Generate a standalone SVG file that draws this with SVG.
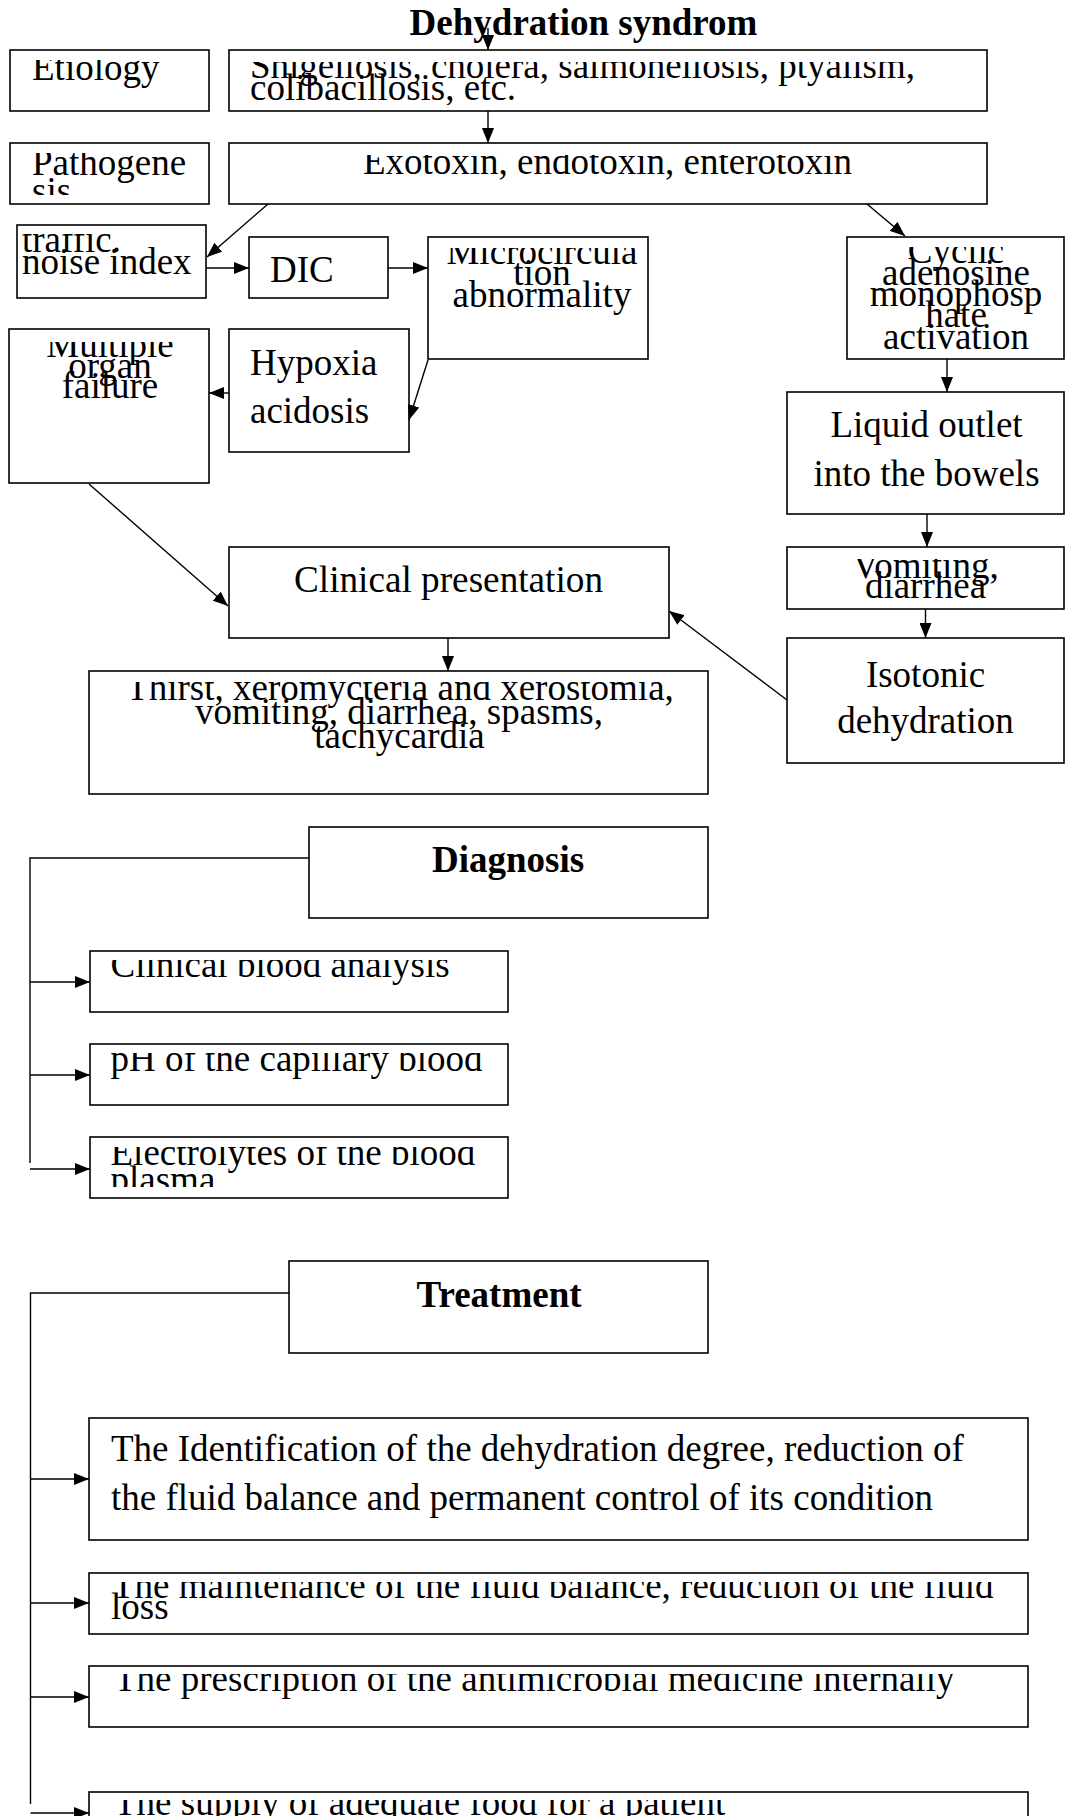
<svg xmlns="http://www.w3.org/2000/svg" width="1066" height="1816" viewBox="0 0 1066 1816">
<style>
.box{fill:#fff;stroke:#000;stroke-width:1.6}
.t{font-family:"Liberation Serif","Times New Roman",serif;font-size:37px;fill:#000}
.b{font-weight:bold}
.c{text-anchor:middle}
.ln{fill:none;stroke:#000;stroke-width:1.4}
</style>
<defs>
<marker id="ah" markerUnits="userSpaceOnUse" markerWidth="15" markerHeight="12" refX="15" refY="6" orient="auto">
<path d="M0,0 L15,6 L0,12 z" fill="#000"/>
</marker>
<clipPath id="cEti"><rect x="10" y="60" width="199" height="45"/></clipPath>
<clipPath id="cShi"><rect x="229" y="62" width="758" height="43"/></clipPath>
<clipPath id="cPat"><rect x="10" y="153" width="199" height="42"/></clipPath>
<clipPath id="cExo"><rect x="229" y="155" width="758" height="43"/></clipPath>
<clipPath id="cTra"><rect x="17" y="234" width="189" height="58"/></clipPath>
<clipPath id="cMic"><rect x="428" y="248" width="220" height="105"/></clipPath>
<clipPath id="cCyc"><rect x="847" y="247" width="217" height="102"/></clipPath>
<clipPath id="cMul"><rect x="9" y="342" width="200" height="135"/></clipPath>
<clipPath id="cVom"><rect x="787" y="559" width="277" height="39"/></clipPath>
<clipPath id="cThi"><rect x="89" y="682" width="619" height="106"/></clipPath>
<clipPath id="cD1"><rect x="90" y="960" width="418" height="46"/></clipPath>
<clipPath id="cD2"><rect x="90" y="1053" width="418" height="46"/></clipPath>
<clipPath id="cD3"><rect x="90" y="1147" width="418" height="40"/></clipPath>
<clipPath id="cT2"><rect x="89" y="1582" width="939" height="46"/></clipPath>
<clipPath id="cT3"><rect x="89" y="1674" width="939" height="47"/></clipPath>
<clipPath id="cT4"><rect x="89" y="1800" width="939" height="40"/></clipPath>
</defs>

<g id="title">
<text class="t b c" x="583.5" y="35">Dehydration syndrom</text>
</g>

<g id="etiology">
<rect class="box" x="10" y="50" width="199" height="61"/>
<text class="t" x="32" y="80" clip-path="url(#cEti)">Etiology</text>
</g>
<g id="shigellosis">
<rect class="box" x="229" y="50" width="758" height="61"/>
<g clip-path="url(#cShi)">
<text class="t" x="250" y="77.5">Shigellosis, cholera, salmonellosis, ptyalism,</text>
<text class="t" x="250" y="99.5">colibacillosis, etc.</text>
</g>
</g>
<g id="pathogenesis">
<rect class="box" x="10" y="143" width="199" height="61"/>
<g clip-path="url(#cPat)">
<text class="t" x="32" y="175">Pathogene</text>
<text class="t" x="32" y="203">sis</text>
</g>
</g>
<g id="exotoxin">
<rect class="box" x="229" y="143" width="758" height="61"/>
<text class="t c" x="607.5" y="174" clip-path="url(#cExo)">Exotoxin, endotoxin, enterotoxin</text>
</g>
<g id="traffic">
<rect class="box" x="17" y="225" width="189" height="73"/>
<g clip-path="url(#cTra)">
<text class="t" x="22" y="252">traffic.</text>
<text class="t" x="22" y="274">noise index</text>
</g>
</g>
<g id="dic">
<rect class="box" x="249" y="237" width="139" height="61"/>
<text class="t" x="270" y="282">DIC</text>
</g>
<g id="microcirculation">
<rect class="box" x="428" y="237" width="220" height="122"/>
<g clip-path="url(#cMic)">
<text class="t c" x="542" y="264">Microcircula</text>
<text class="t c" x="542" y="285">tion</text>
<text class="t c" x="542" y="307">abnormality</text>
</g>
</g>
<g id="cyclic">
<rect class="box" x="847" y="237" width="217" height="122"/>
<g clip-path="url(#cCyc)">
<text class="t c" x="956" y="263">Cyclic</text>
<text class="t c" x="956" y="284.5">adenosine</text>
<text class="t c" x="956" y="306">monophosp</text>
<text class="t c" x="956" y="327">hate</text>
<text class="t c" x="956" y="348.5">activation</text>
</g>
</g>
<g id="multiple">
<rect class="box" x="9" y="329" width="200" height="154"/>
<g clip-path="url(#cMul)">
<text class="t c" x="110" y="357">Multiple</text>
<text class="t c" x="110" y="377.5">organ</text>
<text class="t c" x="110" y="398">failure</text>
</g>
</g>
<g id="hypoxia">
<rect class="box" x="229" y="329" width="180" height="123"/>
<text class="t" x="250" y="375">Hypoxia</text>
<text class="t" x="250" y="423">acidosis</text>
</g>
<g id="liquid">
<rect class="box" x="787" y="392" width="277" height="122"/>
<text class="t c" x="926.5" y="437">Liquid outlet</text>
<text class="t c" x="926.5" y="486">into the bowels</text>
</g>
<g id="vomiting">
<rect class="box" x="787" y="547" width="277" height="62"/>
<g clip-path="url(#cVom)">
<text class="t c" x="925.5" y="578">Vomiting,</text>
<text class="t c" x="925.5" y="598">diarrhea</text>
</g>
</g>
<g id="isotonic">
<rect class="box" x="787" y="638" width="277" height="125"/>
<text class="t c" x="925.5" y="687">Isotonic</text>
<text class="t c" x="925.5" y="733">dehydration</text>
</g>
<g id="clinical">
<rect class="box" x="229" y="547" width="440" height="91"/>
<text class="t" x="294" y="592" textLength="309" lengthAdjust="spacingAndGlyphs">Clinical presentation</text>
</g>
<g id="symptoms">
<rect class="box" x="89" y="671" width="619" height="123"/>
<g clip-path="url(#cThi)">
<text class="t c" x="400" y="700">Thirst, xeromycteria and xerostomia,</text>
<text class="t c" x="399" y="724">vomiting, diarrhea, spasms,</text>
<text class="t c" x="399.5" y="748">tachycardia</text>
</g>
</g>

<g id="diagnosis">
<rect class="box" x="309" y="827" width="399" height="91"/>
<text class="t b c" x="508" y="872">Diagnosis</text>
</g>
<g id="diag-blood">
<rect class="box" x="90" y="951" width="418" height="61"/>
<text class="t" x="110.5" y="977" clip-path="url(#cD1)">Clinical blood analysis</text>
</g>
<g id="diag-ph">
<rect class="box" x="90" y="1044" width="418" height="61"/>
<text class="t" x="110.5" y="1071" clip-path="url(#cD2)">pH of the capillary blood</text>
</g>
<g id="diag-electrolytes">
<rect class="box" x="90" y="1137" width="418" height="61"/>
<g clip-path="url(#cD3)">
<text class="t" x="110.5" y="1165">Electrolytes of the blood</text>
<text class="t" x="110.5" y="1192">plasma</text>
</g>
</g>

<g id="treatment">
<rect class="box" x="289" y="1261" width="419" height="92"/>
<text class="t b c" x="499" y="1307">Treatment</text>
</g>
<g id="treat-1">
<rect class="box" x="89" y="1418" width="939" height="122"/>
<text class="t" x="111" y="1461">The Identification of the dehydration degree, reduction of</text>
<text class="t" x="111" y="1510">the fluid balance and permanent control of its condition</text>
</g>
<g id="treat-2">
<rect class="box" x="89" y="1573" width="939" height="61"/>
<g clip-path="url(#cT2)">
<text class="t" x="112" y="1598">The maintenance of the fluid balance, reduction of the fluid</text>
<text class="t" x="111" y="1619">loss</text>
</g>
</g>
<g id="treat-3">
<rect class="box" x="89" y="1666" width="939" height="61"/>
<text class="t" x="114" y="1691" clip-path="url(#cT3)">The prescription of the antimicrobial medicine internally</text>
</g>
<g id="treat-4">
<rect class="box" x="89" y="1792" width="939" height="60"/>
<text class="t" x="114" y="1815" clip-path="url(#cT4)">The supply of adequate food for a patient</text>
</g>

<g id="connectors">
<line class="ln" x1="488" y1="28" x2="488" y2="50" marker-end="url(#ah)"/>
<line class="ln" x1="488" y1="111" x2="488" y2="143" marker-end="url(#ah)"/>
<line class="ln" x1="268" y1="204" x2="207" y2="257" marker-end="url(#ah)"/>
<line class="ln" x1="867" y1="204" x2="905" y2="236" marker-end="url(#ah)"/>
<line class="ln" x1="206" y1="268" x2="249" y2="268" marker-end="url(#ah)"/>
<line class="ln" x1="388" y1="268" x2="428" y2="268" marker-end="url(#ah)"/>
<line class="ln" x1="428" y1="360" x2="409" y2="420" marker-end="url(#ah)"/>
<line class="ln" x1="229" y1="393" x2="209" y2="393" marker-end="url(#ah)"/>
<line class="ln" x1="947" y1="359" x2="947" y2="392" marker-end="url(#ah)"/>
<line class="ln" x1="927" y1="514" x2="927" y2="547" marker-end="url(#ah)"/>
<line class="ln" x1="925.5" y1="609" x2="925.5" y2="638" marker-end="url(#ah)"/>
<line class="ln" x1="89" y1="484" x2="228" y2="606" marker-end="url(#ah)"/>
<line class="ln" x1="787" y1="700" x2="669" y2="611" marker-end="url(#ah)"/>
<line class="ln" x1="448" y1="638" x2="448" y2="671" marker-end="url(#ah)"/>
<polyline class="ln" points="309,858 30,858 30,1163"/>
<line class="ln" x1="30" y1="982" x2="90" y2="982" marker-end="url(#ah)"/>
<line class="ln" x1="30" y1="1075" x2="90" y2="1075" marker-end="url(#ah)"/>
<line class="ln" x1="30" y1="1169" x2="90" y2="1169" marker-end="url(#ah)"/>
<polyline class="ln" points="289,1293 30.5,1293 30.5,1804"/>
<line class="ln" x1="30.5" y1="1479" x2="89" y2="1479" marker-end="url(#ah)"/>
<line class="ln" x1="30.5" y1="1603" x2="89" y2="1603" marker-end="url(#ah)"/>
<line class="ln" x1="30.5" y1="1697" x2="89" y2="1697" marker-end="url(#ah)"/>
<line class="ln" x1="30.5" y1="1813" x2="89" y2="1813" marker-end="url(#ah)"/>
</g>
</svg>
